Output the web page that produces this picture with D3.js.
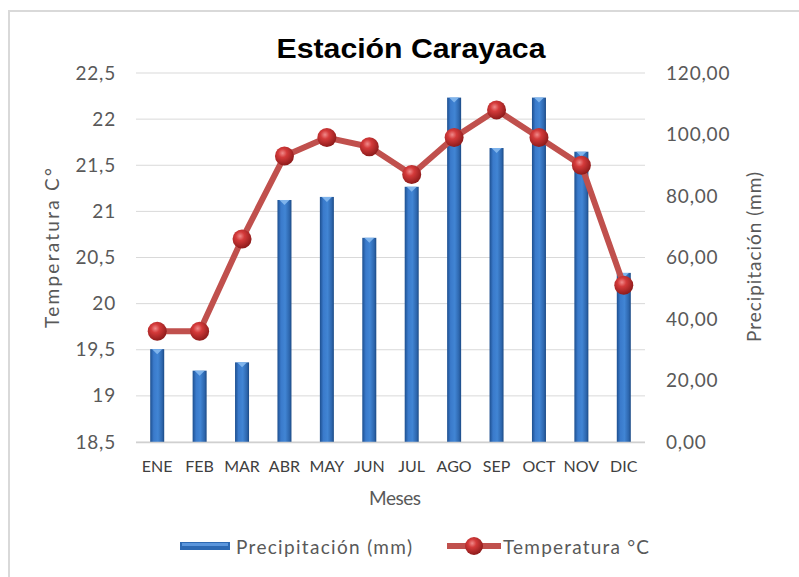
<!DOCTYPE html>
<html><head><meta charset="utf-8">
<script src="https://cdn.jsdelivr.net/npm/d3@7"></script>
<style>
html,body{margin:0;padding:0;background:#fff;}
</style></head>
<body>
<svg id="c" width="799" height="577"></svg>
<script>
const months = ["ENE","FEB","MAR","ABR","MAY","JUN","JUL","AGO","SEP","OCT","NOV","DIC"];
const precip = [30.2,23.2,25.9,78.7,79.7,66.4,83.0,112.0,95.6,112.0,94.4,55.0];
const temp = [19.7,19.7,20.7,21.6,21.8,21.7,21.4,21.8,22.1,21.8,21.5,20.2];
const tempTicks = [18.5,19,19.5,20,20.5,21,21.5,22,22.5];
const precipTicks = [0,20,40,60,80,100,120];
const titleText = "Estación Carayaca";

const FONT = "Lato, 'Open Sans', sans-serif";
const svg = d3.select("#c");
const W=799,H=577;
const m = {l:136, r:645, t:73, b:442};

// frame
svg.append("rect").attr("x",9).attr("y",11).attr("width",W+20).attr("height",H+20)
  .attr("fill","#fff").attr("stroke","#d9d9d9").attr("stroke-width",2);

const defs = svg.append("defs");
const bg = defs.append("linearGradient").attr("id","barg").attr("x1","0").attr("x2","1").attr("y1","0").attr("y2","0");
bg.append("stop").attr("offset","0").attr("stop-color","#1d4f8f");
bg.append("stop").attr("offset","0.25").attr("stop-color","#3a7acb");
bg.append("stop").attr("offset","0.55").attr("stop-color","#4185d4");
bg.append("stop").attr("offset","0.85").attr("stop-color","#2d66ad");
bg.append("stop").attr("offset","1").attr("stop-color","#1b4a85");
const rg = defs.append("radialGradient").attr("id","mk").attr("cx","0.4").attr("cy","0.35").attr("r","0.65");
rg.append("stop").attr("offset","0").attr("stop-color","#f08a8a");
rg.append("stop").attr("offset","0.35").attr("stop-color","#d43a3a");
rg.append("stop").attr("offset","1").attr("stop-color","#8e1b1b");

const x = d3.scaleBand().domain(months).range([m.l,m.r]).padding(0);
const yT = d3.scaleLinear().domain([18.5,22.5]).range([m.b,m.t]);
const yP = d3.scaleLinear().domain([0,120]).range([m.b,m.t]);

// gridlines
svg.append("g").selectAll("line").data(tempTicks).join("line")
  .attr("x1",m.l).attr("x2",m.r).attr("y1",d=>yT(d)).attr("y2",d=>yT(d))
  .attr("stroke","#d9d9d9").attr("stroke-width",1);

const fmtT = d=>String(d).replace(".",",");
const fmtP = d=>d.toFixed(2).replace(".",",");

// left axis
const la = svg.append("g").attr("transform",`translate(${m.l},0)`)
  .call(d3.axisLeft(yT).tickValues(tempTicks).tickFormat(fmtT).tickSize(0).tickPadding(20));
la.select(".domain").remove();
la.selectAll("text").attr("font-size",19).attr("fill","#595959").attr("font-family",FONT)
  .attr("letter-spacing",0.8);

// right axis
const ra = svg.append("g").attr("transform",`translate(${m.r},0)`)
  .call(d3.axisRight(yP).tickValues(precipTicks).tickFormat(fmtP).tickSize(0).tickPadding(21));
ra.select(".domain").remove();
ra.selectAll("text").attr("font-size",19).attr("fill","#595959").attr("font-family",FONT)
  .attr("letter-spacing",0.8);

// bars
const bw = 14;
const bars = svg.append("g").selectAll("g").data(months).join("g");
bars.append("rect")
  .attr("x",d=>x(d)+x.bandwidth()/2-bw/2).attr("width",bw)
  .attr("y",(d,i)=>yP(precip[i])).attr("height",(d,i)=>yP(0)-yP(precip[i]))
  .attr("fill","url(#barg)");
bars.append("path")
  .attr("d",(d,i)=>{const cx=x(d)+x.bandwidth()/2, y=yP(precip[i]);
     return `M${cx-bw/2+2},${y} L${cx+bw/2-2},${y} L${cx},${y+5} Z`;})
  .attr("fill","#7fb4ec");

// bottom axis line
svg.append("line").attr("x1",m.l).attr("x2",m.r).attr("y1",m.b+0.5).attr("y2",m.b+0.5)
  .attr("stroke","#d0d0d0").attr("stroke-width",1.5);

// x axis labels
const xa = svg.append("g").attr("transform",`translate(0,${m.b})`)
  .call(d3.axisBottom(x).tickSize(0).tickPadding(19));
xa.select(".domain").remove();
xa.selectAll("text").attr("font-size",16).attr("fill","#404040").attr("font-family",FONT);

// line
const line = d3.line().x((d,i)=>x(months[i])+x.bandwidth()/2).y(d=>yT(d));
svg.append("path").datum(temp).attr("d",line).attr("fill","none")
  .attr("stroke","#c0504d").attr("stroke-width",6).attr("stroke-linejoin","round");
svg.append("g").selectAll("circle").data(temp).join("circle")
  .attr("cx",(d,i)=>x(months[i])+x.bandwidth()/2).attr("cy",d=>yT(d)).attr("r",9.5)
  .attr("fill","url(#mk)");

// title
svg.append("text").attr("x",411).attr("y",58).attr("text-anchor","middle")
  .attr("font-size",28).attr("font-weight","bold").attr("fill","#000")
  .attr("font-family","'Liberation Sans', Arial, sans-serif")
  .attr("textLength",269).attr("lengthAdjust","spacingAndGlyphs").text(titleText);

// axis titles
svg.append("text").attr("transform","translate(59,248) rotate(-90)").attr("text-anchor","middle")
  .attr("font-size",19).attr("fill","#595959").attr("font-family",FONT)
  .attr("textLength",160).attr("lengthAdjust","spacing").text("Temperatura C°");
svg.append("text").attr("transform","translate(761,257) rotate(-90)").attr("text-anchor","middle")
  .attr("font-size",19).attr("fill","#595959").attr("font-family",FONT)
  .attr("textLength",170).attr("lengthAdjust","spacing").text("Precipitación (mm)");
svg.append("text").attr("x",395).attr("y",505).attr("text-anchor","middle")
  .attr("font-size",19).attr("fill","#595959").attr("font-family",FONT)
  .attr("textLength",52).attr("lengthAdjust","spacing").text("Meses");

// legend
const lg = svg.append("g");
lg.append("rect").attr("x",180).attr("y",542).attr("width",50).attr("height",8).attr("fill","#2e6ab3");
lg.append("rect").attr("x",182).attr("y",543).attr("width",46).attr("height",3).attr("fill","#5b96dc");
lg.append("text").attr("x",236).attr("y",554).attr("font-size",19).attr("fill","#595959").attr("font-family",FONT)
  .attr("textLength",176).attr("lengthAdjust","spacing").text("Precipitación (mm)");
lg.append("line").attr("x1",447).attr("x2",501).attr("y1",546).attr("y2",546).attr("stroke","#c0504d").attr("stroke-width",6);
lg.append("circle").attr("cx",474).attr("cy",546).attr("r",9).attr("fill","url(#mk)");
lg.append("text").attr("x",503).attr("y",554).attr("font-size",19).attr("fill","#595959").attr("font-family",FONT)
  .attr("textLength",146).attr("lengthAdjust","spacing").text("Temperatura °C");
</script>
</body></html>
